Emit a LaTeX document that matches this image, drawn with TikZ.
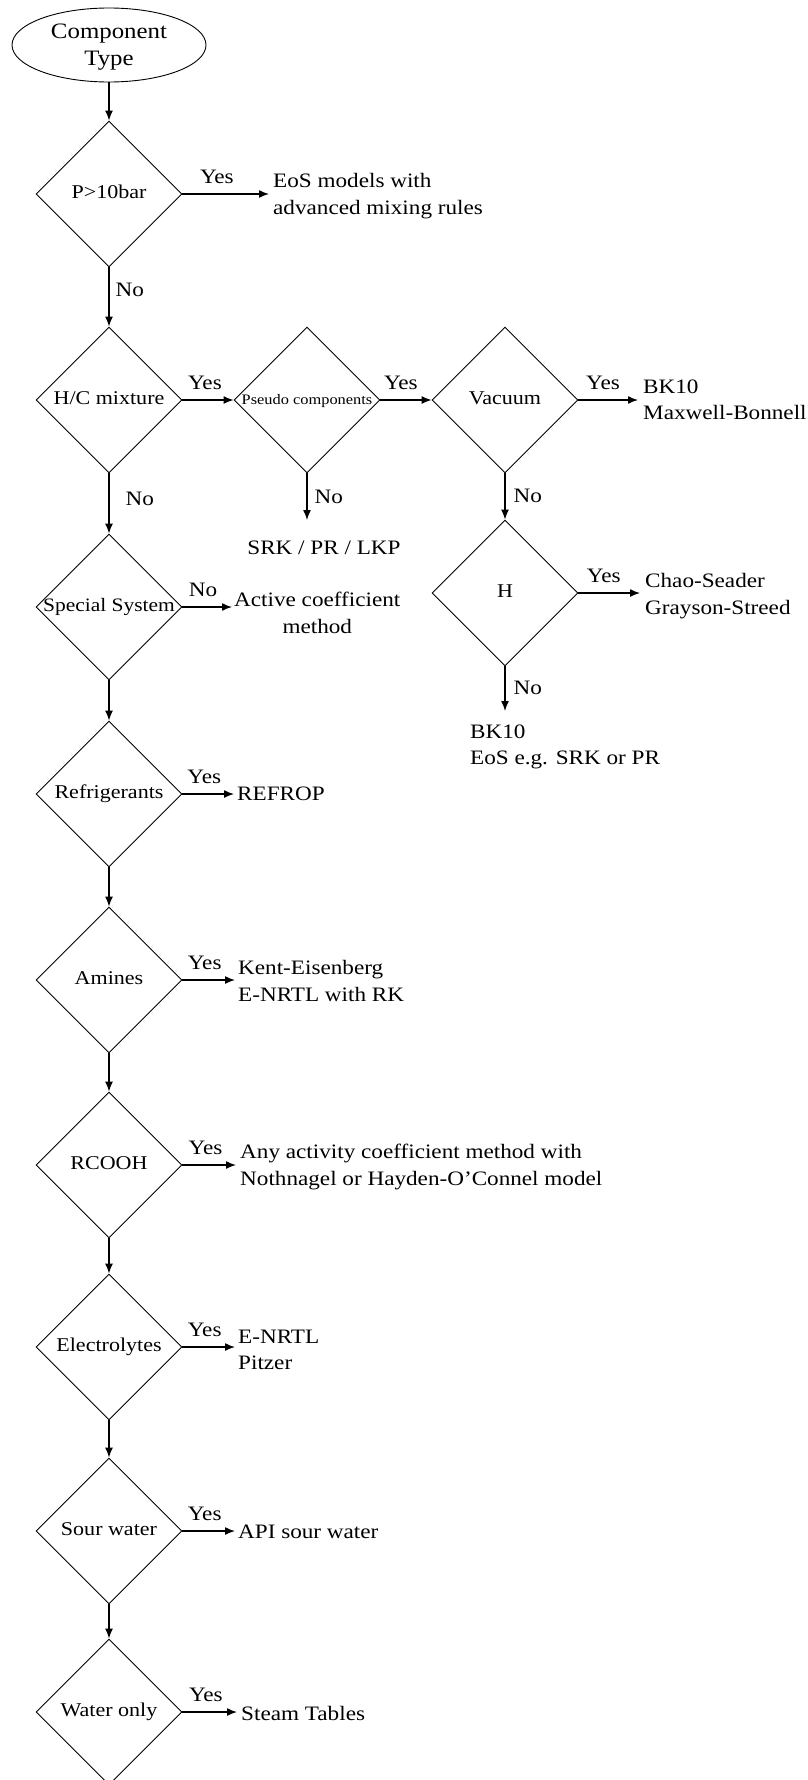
\documentclass[tikz,border=0pt]{standalone}
\usepackage{fontspec}
\setmainfont[FakeStretch=1.13]{Liberation Serif}
\usetikzlibrary{shapes.geometric,arrows.meta}

% zero-width label, so the diamond keeps its fixed size
\newcommand\zw[1]{\makebox[0pt]{#1}}

\begin{document}
\begin{tikzpicture}[x=1pt,y=-1pt,
  decision/.style={diamond, draw, line width=0.9pt, minimum width=146pt,
    minimum height=146pt, inner sep=0pt, text height=13pt, text depth=4pt,
    font=\fontsize{19.5}{23}\selectfont},
  result/.style={anchor=west, inner sep=0pt, align=left,
    font=\fontsize{20.5}{26.5}\selectfont},
  tag/.style={inner sep=0pt, font=\fontsize{20.5}{24}\selectfont},
  flow/.style={line width=1.4pt, -{Latex[length=10pt,width=8pt]}},
  yes/.style={tag, above=10pt, pos=0.4},
  no/.style={tag, anchor=west},
]
\useasboundingbox (0,0) rectangle (808,1780);

% start
\node[ellipse, draw, line width=0.9pt, minimum width=194pt, minimum height=74pt,
  inner sep=0pt, align=center, text depth=0pt,
  font=\fontsize{22}{27}\selectfont] (start) at (109,45) {Component\\Type};

% decisions
\node[decision] (d1) at (109,194) {\zw{P>10bar}};
\node[decision] (d2) at (109,400) {\zw{H/C mixture}};
\node[decision, font=\fontsize{14.5}{17}\selectfont] (d3) at (307,400) {\zw{Pseudo components}};
\node[decision] (d4) at (505,400) {\zw{Vacuum}};
\node[decision] (d5) at (505,593) {\zw{H}};
\node[decision, font=\fontsize{19}{23}\selectfont] (d6) at (109,607) {\zw{Special System}};
\node[decision] (d7) at (109,794) {\zw{Refrigerants}};
\node[decision] (d8) at (109,980) {\zw{Amines}};
\node[decision] (d9) at (109,1165) {\zw{RCOOH}};
\node[decision] (d10) at (109,1347) {\zw{Electrolytes}};
\node[decision] (d11) at (109,1531) {\zw{Sour water}};
\node[decision] (d12) at (109,1712) {\zw{Water only}};

% outcomes
\node[result] (r1) at (273,196) {EoS models with\\advanced mixing rules};
\node[result, anchor=center] (r3) at (324,548) {SRK / PR / LKP};
\node[result] (r4) at (643,400) {BK10\\Maxwell-Bonnell};
\node[result] (r5) at (645,596) {Chao-Seader\\Grayson-Streed};
\node[result] (r5n) at (470,747) {BK10\\EoS e.g. SRK or PR};
\node[result, align=center] (r6) at (234,613) {Active coefficient\\method};
\node[result] (r7) at (237,794) {REFROP};
\node[result] (r8) at (238,981) {Kent-Eisenberg\\E-NRTL with RK};
\node[result] (r9) at (240,1167) {Any activity coefficient method with\\Nothnagel or Hayden-O'Connel model};
\node[result] (r10) at (238,1350) {E-NRTL\\Pitzer};
\node[result] (r11) at (238,1532) {API sour water};
\node[result] (r12) at (241,1713) {Steam Tables};

% ends of the open "No" arrows
\coordinate (e3) at (307,520);
\coordinate (e5) at (505,711);

% vertical flow
\draw[flow] (start.south) -- (d1.north);
\draw[flow] (d1.south) -- node[no, pos=0.38, xshift=6pt] {No} (d2.north);
\draw[flow] (d2.south) -- node[no, pos=0.43, xshift=16pt] {No} (d6.north);
\draw[flow] (d3.south) -- node[no, pos=0.5, xshift=7pt] {No} (e3);
\draw[flow] (d4.south) -- node[no, pos=0.49, xshift=8pt] {No} (d5.north);
\draw[flow] (d5.south) -- node[no, pos=0.47, xshift=8pt] {No} (e5);
\draw[flow] (d6.south) -- (d7.north);
\draw[flow] (d7.south) -- (d8.north);
\draw[flow] (d8.south) -- (d9.north);
\draw[flow] (d9.south) -- (d10.north);
\draw[flow] (d10.south) -- (d11.north);
\draw[flow] (d11.south) -- (d12.north);

% horizontal flow
\draw[flow, shorten >=4pt] (d1.east) -- node[yes, pos=0.38] {Yes} (d1.east -| r1.west);
\draw[flow] (d2.east) -- node[yes, pos=0.44] {Yes} (d3.west);
\draw[flow] (d3.east) -- node[yes] {Yes} (d4.west);
\draw[flow, shorten >=5pt] (d4.east) -- node[yes, pos=0.38] {Yes} (d4.east -| r4.west);
\draw[flow, shorten >=5pt] (d5.east) -- node[yes, pos=0.38] {Yes} (d5.east -| r5.west);
\draw[flow, shorten >=2pt] (d6.east) -- node[yes] {No} (d6.east -| r6.west);
\draw[flow, shorten >=3pt] (d7.east) -- node[yes] {Yes} (d7.east -| r7.west);
\draw[flow, shorten >=3pt] (d8.east) -- node[yes] {Yes} (d8.east -| r8.west);
\draw[flow, shorten >=4pt] (d9.east) -- node[yes] {Yes} (d9.east -| r9.west);
\draw[flow, shorten >=3pt] (d10.east) -- node[yes] {Yes} (d10.east -| r10.west);
\draw[flow, shorten >=3pt] (d11.east) -- node[yes] {Yes} (d11.east -| r11.west);
\draw[flow, shorten >=4pt] (d12.east) -- node[yes] {Yes} (d12.east -| r12.west);
\end{tikzpicture}
\end{document}
